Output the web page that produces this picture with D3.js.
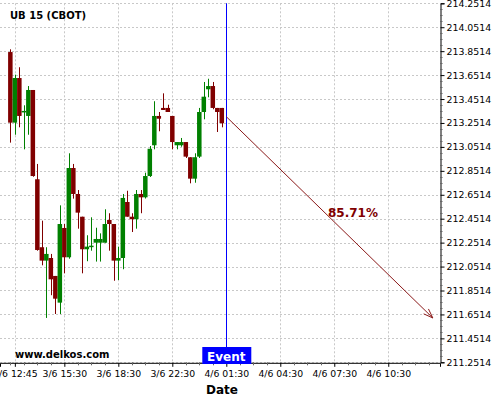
<!DOCTYPE html>
<html>
<head>
<meta charset="utf-8">
<script src="https://cdn.jsdelivr.net/npm/d3@7"></script>
<style>
  body { margin: 0; background: #fff; }
  text { font-family: "DejaVu Sans", sans-serif; }
</style>
</head>
<body>
<div id="chart"></div>
<script>
// 15 minute candles, index 0 = 3/6 12:30
var opens  = [213.844,213.254,213.627,213.345,213.310,213.527,212.781,212.213,212.101,212.123,211.973,211.750,
              212.374,212.129,212.875,212.658,212.468,212.196,212.220,212.251,212.251,212.251,212.441,212.407,
              212.101,212.123,212.591,212.468,212.447,212.658,212.630,212.808,213.065,213.310,213.377,213.377,
              213.310,213.065,213.065,213.092,212.965,212.786,212.970,213.343,213.533,213.560,213.377,213.377];
var highs  = [213.867,213.655,213.717,213.399,213.560,213.527,212.909,212.435,212.213,212.157,211.973,212.563,
              212.407,212.998,212.909,212.691,212.468,212.313,212.463,212.376,212.329,212.530,212.497,212.407,
              212.218,212.658,212.685,212.497,212.691,212.691,212.836,213.059,213.433,213.343,213.499,213.404,
              213.310,213.092,213.126,213.092,212.965,212.998,213.377,213.594,213.621,213.594,213.377,213.377];
var lows   = [213.087,213.153,213.215,213.031,213.153,212.802,212.184,212.062,211.622,211.812,211.655,211.655,
              211.995,212.117,212.619,212.368,211.995,212.096,212.184,212.093,212.093,212.251,212.184,211.933,
              211.939,212.029,212.468,212.340,212.368,212.497,212.620,212.800,213.031,213.182,213.360,213.343,
              213.031,213.031,213.053,212.959,212.747,212.752,212.959,213.282,213.466,213.366,213.176,213.215];
var closes = [213.254,213.627,213.310,213.352,213.527,212.808,212.190,212.101,212.157,211.945,211.783,212.407,
              212.129,212.875,212.658,212.502,212.196,212.218,212.226,212.282,212.282,212.407,212.407,212.101,
              212.123,212.625,212.468,212.447,212.658,212.630,212.808,213.036,213.310,213.287,213.360,213.343,
              213.092,213.092,213.092,212.970,212.786,212.965,213.343,213.471,213.560,213.377,213.343,213.249];

var xTickIdx    = [1, 12, 24, 36, 48, 60, 72, 84];
var xTickLabels = ["3/6 12:45","3/6 15:30","3/6 18:30","3/6 22:30","4/6 01:30","4/6 04:30","4/6 07:30","4/6 10:30"];
var yTicks = [211.2514,211.4514,211.6514,211.8514,212.0514,212.2514,212.4514,212.6514,
              212.8514,213.0514,213.2514,213.4514,213.6514,213.8514,214.0514,214.2514];

var eventIdx = 48;
var forecastFrom = [48, 213.304];
var forecastTo   = [93.9, 211.622];
var forecastLabel = "85.71%";

var width = 500, height = 400;
var plot = {left: 0, right: 440, top: 3.3, bottom: 362.3};

var svg = d3.select("#chart").append("svg")
    .attr("width", width)
    .attr("height", height);

var x = d3.scaleLinear().domain([-2.3, 95.5]).range([plot.left, plot.right]);
var y = d3.scaleLinear().domain([211.2514, 214.2514]).range([plot.bottom, plot.top]);
var step = x(1) - x(0);

// grid
svg.append("g").selectAll("line.gx")
    .data(xTickIdx).enter().append("line")
    .attr("x1", d => Math.round(x(d)) + 0.5).attr("x2", d => Math.round(x(d)) + 0.5)
    .attr("y1", plot.top).attr("y2", plot.bottom)
    .attr("stroke", "#c8c8c8").attr("stroke-dasharray", "2,2");
svg.append("g").selectAll("line.gy")
    .data(yTicks).enter().append("line")
    .attr("x1", plot.left).attr("x2", plot.right)
    .attr("y1", d => Math.round(y(d)) + 0.5).attr("y2", d => Math.round(y(d)) + 0.5)
    .attr("stroke", "#c8c8c8").attr("stroke-dasharray", "2,2");

// candles
var candles = opens.map((o, i) => ({i: i, o: o, h: highs[i], l: lows[i], c: closes[i]}));
var g = svg.append("g");
g.selectAll("line.wick").data(candles).enter().append("line")
    .attr("x1", d => Math.round(x(d.i)) + 0.5).attr("x2", d => Math.round(x(d.i)) + 0.5)
    .attr("y1", d => y(d.h)).attr("y2", d => y(d.l))
    .attr("stroke", d => d.c >= d.o ? "#008000" : "#800000")
    .attr("stroke-width", 1);
g.selectAll("rect").data(candles).enter().append("rect")
    .attr("x", d => x(d.i) - step / 2)
    .attr("width", step)
    .attr("y", d => y(Math.max(d.o, d.c)))
    .attr("height", d => Math.max(1.5, Math.abs(y(d.o) - y(d.c))))
    .attr("fill", d => d.c >= d.o ? "#008000" : "#800000");

// event line
svg.append("line")
    .attr("x1", Math.round(x(eventIdx)) + 0.5).attr("x2", Math.round(x(eventIdx)) + 0.5)
    .attr("y1", plot.top).attr("y2", plot.bottom)
    .attr("stroke", "#0000ff").attr("stroke-width", 1);

// forecast arrow
var x1 = x(forecastFrom[0]), y1 = y(forecastFrom[1]);
var x2 = x(forecastTo[0]), y2 = y(forecastTo[1]);
svg.append("line")
    .attr("x1", x1).attr("y1", y1).attr("x2", x2).attr("y2", y2)
    .attr("stroke", "#8b1a1a").attr("stroke-width", 1);
var ang = Math.atan2(y2 - y1, x2 - x1), hl = 10;
svg.append("path")
    .attr("d", "M" + (x2 - hl * Math.cos(ang - 0.35)) + "," + (y2 - hl * Math.sin(ang - 0.35)) +
               "L" + x2 + "," + y2 +
               "L" + (x2 - hl * Math.cos(ang + 0.35)) + "," + (y2 - hl * Math.sin(ang + 0.35)))
    .attr("fill", "none").attr("stroke", "#8b1a1a").attr("stroke-width", 1);
svg.append("text")
    .attr("x", 353)
    .attr("y", y((forecastFrom[1] + forecastTo[1]) / 2) - 0.5)
    .attr("text-anchor", "middle")
    .attr("font-size", 12).attr("font-weight", "bold")
    .attr("fill", "#800000")
    .text(forecastLabel);

// y axis on the right
var yAxis = d3.axisRight(y).tickValues(yTicks).tickFormat(d => d.toFixed(4)).tickSize(4).tickPadding(2);
var ya = svg.append("g").attr("transform", "translate(" + (plot.right + 0.5) + ",0)").call(yAxis);
ya.selectAll("text").attr("font-size", 9.4).attr("fill", "#000").style("font-family", "DejaVu Sans");
ya.select(".domain").attr("stroke", "#000");
var yMinor = d3.range(0, 61).map(k => 211.2514 + k * 0.05).filter((d, k) => k % 4 !== 0);
svg.append("g").selectAll("line").data(yMinor).enter().append("line")
    .attr("x1", plot.right).attr("x2", plot.right + 2.5)
    .attr("y1", d => Math.round(y(d)) + 0.5).attr("y2", d => Math.round(y(d)) + 0.5)
    .attr("stroke", "#666");

// x axis
var xAxis = d3.axisBottom(x).tickValues(xTickIdx).tickFormat((d, i) => xTickLabels[i]).tickSize(4).tickPadding(4);
var xa = svg.append("g").attr("transform", "translate(0," + (plot.bottom + 0.5) + ")").call(xAxis);
xa.selectAll("text").attr("font-size", 9.3).attr("fill", "#000").style("font-family", "DejaVu Sans");
xa.select(".domain").attr("stroke", "#000");
var xMinor = d3.range(0, 95, 3).filter(d => xTickIdx.indexOf(d) < 0);
svg.append("g").selectAll("line").data(xMinor).enter().append("line")
    .attr("x1", d => Math.round(x(d)) + 0.5).attr("x2", d => Math.round(x(d)) + 0.5)
    .attr("y1", plot.bottom).attr("y2", plot.bottom + 3)
    .attr("stroke", "#666");

// event box
var ex = x(eventIdx);
svg.append("rect").attr("x", ex - 24).attr("y", 347).attr("width", 49).attr("height", 17).attr("fill", "#0000ff");
svg.append("text").attr("x", ex).attr("y", 360.5).attr("text-anchor", "middle")
    .attr("font-size", 12).attr("font-weight", "bold").attr("fill", "#fff").text("Event");

// titles
svg.append("text").attr("x", 10).attr("y", 19).attr("font-size", 10).attr("font-weight", "bold").text("UB 15 (CBOT)");
svg.append("text").attr("x", 15).attr("y", 358).attr("font-size", 10).attr("font-weight", "bold").text("www.delkos.com");
svg.append("text").attr("x", 222).attr("y", 394).attr("text-anchor", "middle")
    .attr("font-size", 12).attr("font-weight", "bold").text("Date");
</script>
</body>
</html>
